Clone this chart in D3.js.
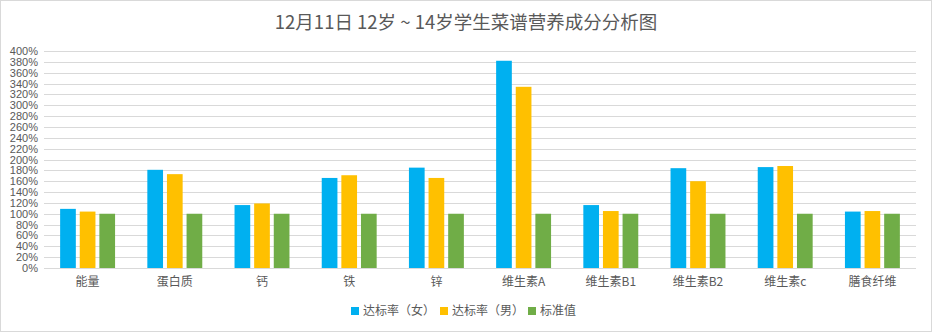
<!DOCTYPE html>
<html>
<head>
<meta charset="utf-8">
<script src="https://cdn.jsdelivr.net/npm/d3@7"></script>
<style>
  html, body { margin: 0; padding: 0; background: #fff; }
  svg { display: block; }
</style>
</head>
<body>
<svg id="chart" width="932" height="332"></svg>
<script>
// Nutrient categories
const categories = ["能量", "蛋白质", "钙", "铁", "锌", "维生素A", "维生素B1", "维生素B2", "维生素c", "膳食纤维"];
// Series names
const seriesNames = ["达标率（女）", "达标率（男）", "标准值"];
// Attainment rates in percent
const femaleRate = [109, 181, 116, 166, 185, 382, 116, 184, 186, 104];
const maleRate   = [104, 173, 119, 171, 166, 334, 105, 160, 188, 105];
const standard   = [100, 100, 100, 100, 100, 100, 100, 100, 100, 100];
// Y tick values
const yTicks = d3.range(0, 401, 20);

const colors = ["#00b0f0", "#ffc000", "#70ad47"];
const seriesValues = [femaleRate, maleRate, standard];

const W = 932, H = 332;
const margin = { left: 44, right: 16, top: 51 };
const plotBottom = 268;

const svg = d3.select("#chart");

// Outer frame
svg.append("rect")
  .attr("x", 0.5).attr("y", 0.5)
  .attr("width", W - 1).attr("height", H - 1)
  .attr("fill", "#fff").attr("stroke", "#d9d9d9");

// Title
svg.append("text")
  .attr("x", W / 2).attr("y", 29)
  .attr("text-anchor", "middle")
  .attr("font-family", "'Noto Sans CJK SC', sans-serif")
  .attr("font-size", 18.5)
  .attr("fill", "#595959")
  .text("12月11日 12岁 ~ 14岁学生菜谱营养成分分析图");

const x0 = d3.scaleBand()
  .domain(categories)
  .range([margin.left, W - margin.right])
  .paddingInner(0.37).paddingOuter(0.185);

const x1 = d3.scaleBand()
  .domain(d3.range(seriesNames.length))
  .range([0, x0.bandwidth()])
  .paddingInner(0.2).paddingOuter(0);

const y = d3.scaleLinear()
  .domain([0, 400])
  .range([plotBottom, margin.top]);

// Gridlines
svg.append("g")
  .selectAll("line")
  .data(yTicks)
  .join("line")
  .attr("x1", margin.left).attr("x2", W - margin.right)
  .attr("y1", d => Math.round(y(d)) + 0.5)
  .attr("y2", d => Math.round(y(d)) + 0.5)
  .attr("stroke", "#d9d9d9").attr("stroke-width", 1);

// Y axis labels
const yAxis = d3.axisLeft(y).tickValues(yTicks).tickFormat(d => d + "%").tickSize(0).tickPadding(6);
const gy = svg.append("g")
  .attr("transform", `translate(${margin.left},0)`)
  .call(yAxis);
gy.select(".domain").remove();
gy.selectAll("text")
  .attr("font-family", "'Liberation Sans Narrow', 'Liberation Sans', sans-serif")
  .attr("font-size", 11)
  .attr("fill", "#595959");

// Bars
const groups = svg.append("g")
  .selectAll("g")
  .data(categories)
  .join("g")
  .attr("transform", d => `translate(${x0(d)},0)`);

groups.selectAll("rect")
  .data((d, i) => seriesValues.map((vals, s) => ({ s, v: vals[i] })))
  .join("rect")
  .attr("x", d => x1(d.s))
  .attr("width", x1.bandwidth())
  .attr("y", d => y(d.v))
  .attr("height", d => y(0) - y(d.v))
  .attr("fill", d => colors[d.s]);

// X axis labels
const xAxis = d3.axisBottom(x0).tickSize(0).tickPadding(9);
const gx = svg.append("g")
  .attr("transform", `translate(0,${plotBottom})`)
  .call(xAxis);
gx.select(".domain").remove();
gx.selectAll("text")
  .attr("font-family", "'Noto Sans CJK SC', sans-serif")
  .attr("font-size", 12)
  .attr("fill", "#595959");

// Legend
const legend = svg.append("g").attr("transform", "translate(0,311)");
const legendX = [351, 440, 528];
const items = legend.selectAll("g")
  .data(seriesNames)
  .join("g")
  .attr("transform", (d, i) => `translate(${legendX[i]},0)`);
items.append("rect")
  .attr("x", 0).attr("y", -4)
  .attr("width", 8).attr("height", 8)
  .attr("fill", (d, i) => colors[i]);
items.append("text")
  .attr("x", 12).attr("y", 0)
  .attr("dy", "0.35em")
  .attr("font-family", "'Noto Sans CJK SC', sans-serif")
  .attr("font-size", 12)
  .attr("fill", "#595959")
  .text(d => d);
</script>
</body>
</html>
